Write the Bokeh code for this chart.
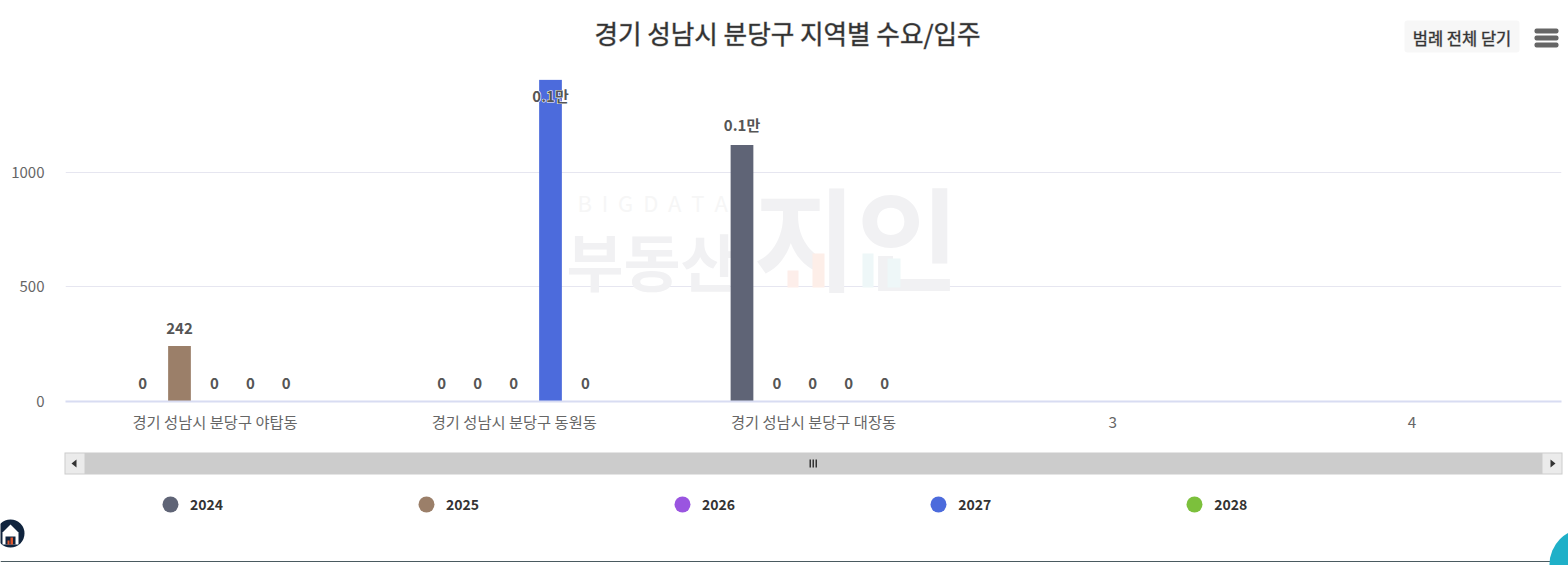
from bokeh.plotting import figure
from bokeh.layouts import column
from bokeh.embed import file_html
from bokeh.resources import INLINE
from bokeh.core.properties import value
from bokeh.models import (ColumnDataSource, Range1d, FactorRange, Legend, LegendItem, Label,
                          BoxAnnotation, PolyAnnotation)
from bokeh.transform import dodge

FONT = "Noto Sans CJK KR"

title_text = "경기 성남시 분당구 지역별 수요/입주"
button_text = "범례 전체 닫기"
categories = ["경기 성남시 분당구 야탑동", "경기 성남시 분당구 동원동", "경기 성남시 분당구 대장동", "3", "4"]
filled_categories = categories[:3]
years = ["2024", "2025", "2026", "2027", "2028"]
v2024 = [0, 0, 1120]
v2025 = [242, 0, 0]
v2026 = [0, 0, 0]
v2027 = [0, 1405, 0]
v2028 = [0, 0, 0]
series = [v2024, v2025, v2026, v2027, v2028]
colors = ["#5f6476", "#9b7f69", "#9a55e0", "#4c6bdc", "#7cc03c"]
offsets = [-0.239, -0.119, 0.001, 0.121, 0.241]
y_ticks = [0, 500, 1000]

W = 1568
TOP_H, MAIN_H = 79, 361
BOT_H = 565 - TOP_H - MAIN_H


def fmt(v):
    return f"{v / 10000:.1f}만" if v >= 1000 else str(v)


def label_dy(v):
    if v > 1300:
        return 16
    return -20 if v >= 1000 else -18


def blank(h):
    f = figure(width=W, height=h, output_backend="svg", toolbar_location=None,
               x_range=Range1d(0, W), y_range=Range1d(0, h), frame_align=False,
               min_border=0, outline_line_color=None, background_fill_color="white", border_fill_color="white")
    f.axis.visible = False
    f.grid.visible = False
    return f


def chrome_text(f, txt, x, y, size, color, bold=False, align="left", level="overlay", outline=None):
    f.add_layout(Label(x=x, y=y, x_units="canvas", y_units="canvas", text=txt, text_font=FONT,
                       text_font_size=size, text_color=color, text_align=align, text_baseline="middle",
                       text_font_style="bold" if bold else "normal", level=level,
                       text_outline_color=outline))


def box(f, l, r, t, b, color, radius=0, level="overlay"):
    f.add_layout(BoxAnnotation(left=l, right=r, top=t, bottom=b, left_units="canvas", right_units="canvas",
                               top_units="canvas", bottom_units="canvas", fill_color=color, fill_alpha=1,
                               line_color=None, border_radius=radius, level=level, editable=False))


def poly(f, xs, ys, color):
    f.add_layout(PolyAnnotation(xs=xs, ys=ys, xs_units="canvas", ys_units="canvas", fill_color=color,
                                fill_alpha=1, line_color=None, level="overlay"))


# header strip
top = blank(TOP_H)
chrome_text(top, title_text, 787, 32, "25.6px", "#333333", align="center", outline="rgba(51,51,51,0.4)")
box(top, 1404, 1519, 20, 52, "#f7f7f7", 3)
chrome_text(top, button_text, 1461.5, 37, "16.5px", "#333333", align="center", outline="rgba(51,51,51,0.4)")
for t in (28, 35, 42):
    box(top, 1534, 1558, t, t + 5, "#666666", 2)

# plot
p = figure(width=W, height=MAIN_H, output_backend="svg", toolbar_location=None,
           x_range=FactorRange(factors=categories, factor_padding=0, range_padding=0),
           y_range=Range1d(0, 1406), frame_align=False,
           min_border_left=65, min_border_right=7, min_border_top=0, min_border_bottom=MAIN_H - 322,
           outline_line_color=None, background_fill_color="white", border_fill_color="white")

p.xgrid.visible = False
p.ygrid.grid_line_color = "#e6e6f0"
p.ygrid.grid_line_width = 1

ax = p.xaxis[0]
ax.axis_line_color = "#d8dcf2"
ax.axis_line_width = 2
ax.major_tick_line_color = None
ax.minor_tick_line_color = None
ax.major_label_standoff = 2
ax.major_label_text_font = FONT
ax.major_label_text_font_size = "15.3px"
ax.major_label_text_color = "#666666"
ax.separator_line_color = None

ay = p.yaxis[0]
ay.ticker = y_ticks
ay.axis_line_color = None
ay.major_tick_line_color = None
ay.minor_tick_line_color = None
ay.major_label_standoff = 15
ay.major_label_text_font = FONT
ay.major_label_text_font_size = "15px"
ay.major_label_text_color = "#666666"

# watermark (canvas y = page y - TOP_H)
chrome_text(p, "B\u00a0\u00a0I\u00a0\u00a0G\u00a0\u00a0D\u00a0\u00a0A\u00a0\u00a0T\u00a0\u00a0A", 577, 201 - TOP_H,
            "22px", "#f6f6f6", level="underlay")
chrome_text(p, "부동산", 566, 259 - TOP_H, "62px", "#f1f1f3", bold=True, level="underlay")
chrome_text(p, "지인", 753, 233 - TOP_H, "112px", "#f1f1f3", bold=True, level="underlay")
for l, r, t0, col in ((787, 798, 270, "#fdeeea"), (812, 824, 253, "#fdeee8"),
                      (862, 873, 253, "#eef7f8"), (887, 900, 258, "#eef7f8")):
    box(p, l, r, t0 - TOP_H, 287 - TOP_H, col, level="underlay")

for vals, col, off in zip(series, colors, offsets):
    src = ColumnDataSource(dict(cat=filled_categories, val=vals))
    x = dodge("cat", off, range=p.x_range)
    p.vbar(x=x, top="val", bottom=0, width=0.076, source=src, fill_color=col, line_color=None)

for vals, off in zip(series, offsets):
    src = ColumnDataSource(dict(
        cat=filled_categories, val=vals, label=[fmt(v) for v in vals],
        dy=[label_dy(v) for v in vals], dx=[-1 if v == 0 else 0 for v in vals]))
    x = dodge("cat", off, range=p.x_range)
    p.text(x=x, y="val", text="label", source=src, x_offset="dx", y_offset="dy", text_align="center",
           text_baseline="middle", text_outline_color="white", text_color="white",
           text_font=value(FONT), text_font_size="15px", text_font_style="bold")
    p.text(x=x, y="val", text="label", source=src, x_offset="dx", y_offset="dy", text_align="center",
           text_baseline="middle", text_font=value(FONT), text_font_size="15px",
           text_font_style="bold", text_color="#555555")

# footer strip with scrollbar and legend (canvas y = page y - BOT_Y)
BOT_Y = TOP_H + MAIN_H
bot = blank(BOT_H)
items = []
for name, col in zip(years, colors):
    r = bot.scatter(x=[float("nan")], y=[float("nan")], marker="circle", size=16, fill_color=col, line_color=None)
    items.append(LegendItem(label=name, renderers=[r]))
legend = Legend(items=items, orientation="horizontal", location=(150, 41), glyph_width=40, glyph_height=40,
                label_standoff=-3, spacing=183, padding=0, margin=0, background_fill_alpha=0,
                border_line_color=None, label_text_font=FONT, label_text_font_size="14px",
                label_text_font_style="bold", label_text_color="#333333")
bot.add_layout(legend, "center")

box(bot, 64, 1562, 452 - BOT_Y, 474 - BOT_Y, "#cccccc")
box(bot, 65, 84, 453 - BOT_Y, 473 - BOT_Y, "#ebebeb")
box(bot, 1542, 1561, 453 - BOT_Y, 473 - BOT_Y, "#ebebeb")
poly(bot, [71, 76, 76], [463 - BOT_Y, 459 - BOT_Y, 467 - BOT_Y], "#333333")
poly(bot, [1555, 1550, 1550], [463 - BOT_Y, 459 - BOT_Y, 467 - BOT_Y], "#333333")
for x in (809, 812, 815):
    box(bot, x, x + 1.5, 459 - BOT_Y, 467 - BOT_Y, "#333333")

box(bot, 0, 1568, 560.5 - BOT_Y, 561.5 - BOT_Y, "#4a5a60")
box(bot, 1549, 1621, 528 - BOT_Y, 600 - BOT_Y, "#1fb0c8", 36)
box(bot, -4, 24, 519 - BOT_Y, 547 - BOT_Y, "#10243e", 14)
poly(bot, [2, 10, 18, 18, 2], [532 - BOT_Y, 524 - BOT_Y, 532 - BOT_Y, 544 - BOT_Y, 544 - BOT_Y], "#ffffff")
box(bot, 5, 15, 536 - BOT_Y, 544 - BOT_Y, "#10243e")
box(bot, 10, 12.5, 537 - BOT_Y, 544 - BOT_Y, "#e0562c")
box(bot, 7, 9, 540 - BOT_Y, 544 - BOT_Y, "#e0562c")

page = column(top, p, bot, spacing=0)
open("out.html", "w").write(file_html(page, INLINE))
